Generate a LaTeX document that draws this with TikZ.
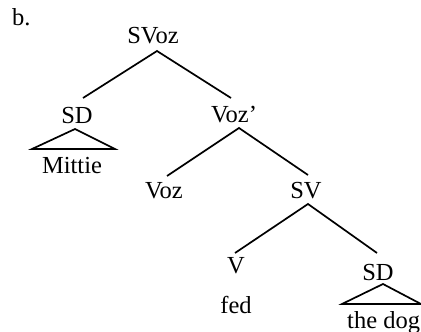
\documentclass[tikz,border=0pt]{standalone}
\usepackage{fontspec}
\setmainfont{Liberation Serif}
\begin{document}
\begin{tikzpicture}[x=1pt,y=-1pt,
  lbl/.style={font=\fontsize{24.5}{28}\selectfont, anchor=base, inner sep=0pt},
  br/.style={line width=1.7pt, line join=miter}]
\useasboundingbox (0,0) rectangle (421,332);
\node[lbl, anchor=base west] (b) at (12,25) {b.};
\node[lbl] (svoz) at (153,43) {SVoz};
\node[lbl] (sd1) at (77,123) {SD};
\node[lbl] (mittie) at (72,173) {Mittie};
\node[lbl] (vozp) at (234,122) {Voz'};
\node[lbl] (voz) at (164,198) {Voz};
\node[lbl] (sv) at (306,198) {SV};
\node[lbl] (v) at (236,273) {V};
\node[lbl] (fed) at (236,313) {fed};
\node[lbl] (sd2) at (378,280) {SD};
\node[lbl, anchor=base west] (dog) at (347,328) {the dog};
% branches
\draw[br] ([shift={(6,-25)}]sd1.base) -- ([shift={(4,8)}]svoz.base) -- ([shift={(-3,-24)}]vozp.base);
\draw[br] ([shift={(3,-22)}]voz.base) -- ([shift={(5,6)}]vozp.base) -- ([shift={(2,-23)}]sv.base);
\draw[br] ([shift={(-1,-20)}]v.base) -- ([shift={(2,6)}]sv.base) -- ([shift={(-1,-27)}]sd2.base);
% triangles
\draw[br] ([shift={(-2,6)}]sd1.base) -- ([shift={(-45,26)}]sd1.base) -- ([shift={(38,26)}]sd1.base) -- cycle;
\draw[br] ([shift={(5,4)}]sd2.base) -- ([shift={(-36,24)}]sd2.base) -- ([shift={(43,24)}]sd2.base) -- cycle;
\end{tikzpicture}
\end{document}
